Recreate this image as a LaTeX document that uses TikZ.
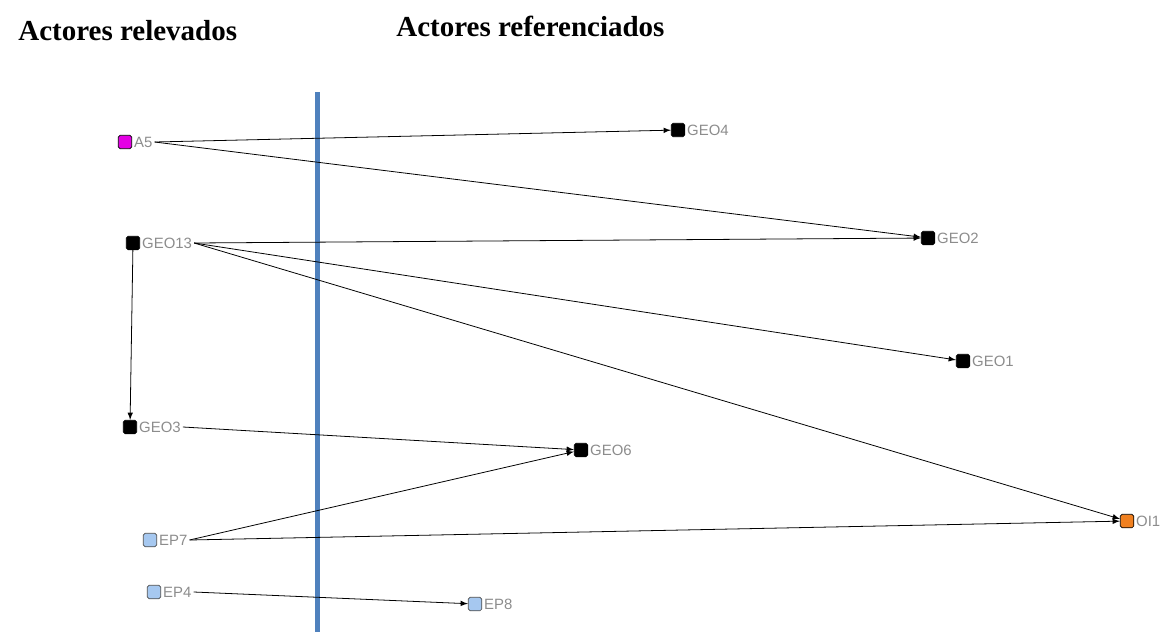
\documentclass[tikz,border=0pt]{standalone}
\usepackage{fontspec}
\setmainfont{Liberation Serif}
\newfontfamily\lblfont{Liberation Sans}
\tikzset{>=latex}
\definecolor{divblue}{RGB}{79,129,189}
\definecolor{epblue}{RGB}{166,200,240}
\definecolor{oiorange}{RGB}{240,128,32}
\definecolor{amagenta}{RGB}{228,0,228}
\tikzset{
  actor/.style = {draw=black, fill=black, rounded corners=1pt, minimum size=0.27cm, inner sep=0pt},
  lbl/.style = {font=\lblfont\fontsize{8.5}{9}\selectfont, text=black!45, inner sep=1pt},
  tie/.style = {->, black, line width=0.45pt},
  title/.style = {font=\bfseries\fontsize{16.5}{18}\selectfont, anchor=west, inner sep=0pt}
}

\begin{document}
\begin{tikzpicture}[x=0.02cm, y=-0.02cm]
  \useasboundingbox (0,0) rectangle (1161,632);
  \node[title] (tl) at (18,31) {Actores relevados};
  \node[title] (tr) at (396,26) {Actores referenciados};
  % divider
  \draw[divblue, line width=0.1cm] (317,92) -- (317,632);
  % actors
  \node[actor, fill=amagenta] (a5) at (125,142) {};
  \node[lbl, anchor=west] (a5l) at (a5.east) {A5};
  \node[actor] (geo13) at (133,243) {};
  \node[lbl, anchor=west] (geo13l) at (geo13.east) {GEO13};
  \node[actor] (geo3) at (130,427) {};
  \node[lbl, anchor=west] (geo3l) at (geo3.east) {GEO3};
  \node[actor, fill=epblue, draw=black!70] (ep7) at (150,540) {};
  \node[lbl, anchor=west] (ep7l) at (ep7.east) {EP7};
  \node[actor, fill=epblue, draw=black!70] (ep4) at (154,592) {};
  \node[lbl, anchor=west] (ep4l) at (ep4.east) {EP4};
  \node[actor] (geo4) at (678,130) {};
  \node[lbl, anchor=west] at (geo4.east) {GEO4};
  \node[actor] (geo2) at (928,238) {};
  \node[lbl, anchor=west] at (geo2.east) {GEO2};
  \node[actor] (geo1) at (963,361) {};
  \node[lbl, anchor=west] at (geo1.east) {GEO1};
  \node[actor] (geo6) at (581,450) {};
  \node[lbl, anchor=west] at (geo6.east) {GEO6};
  \node[actor, fill=oiorange] (oi1) at (1127,521) {};
  \node[lbl, anchor=west] at (oi1.east) {OI1};
  \node[actor, fill=epblue, draw=black!70] (ep8) at (475,604) {};
  \node[lbl, anchor=west] at (ep8.east) {EP8};
  % ties
  \draw[tie] (a5l.east) -- (geo4);
  \draw[tie] (a5l.east) -- (geo2);
  \draw[tie] (geo13l.east) -- (geo2);
  \draw[tie] (geo13l.east) -- (geo1);
  \draw[tie] (geo13l.east) -- (oi1);
  \draw[tie] (geo13) -- (geo3);
  \draw[tie] (geo3l.east) -- (geo6);
  \draw[tie] (ep7l.east) -- (geo6);
  \draw[tie] (ep7l.east) -- (oi1);
  \draw[tie] (ep4l.east) -- (ep8);
\end{tikzpicture}
\end{document}
